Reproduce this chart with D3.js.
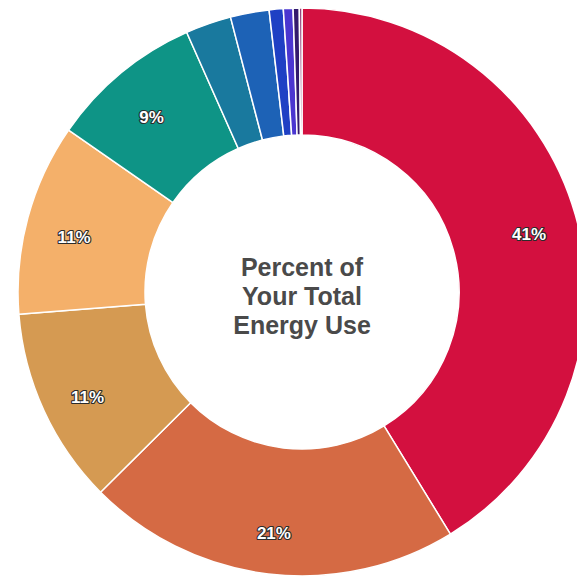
<!DOCTYPE html>
<html>
<head>
<meta charset="utf-8">
<script src="https://cdn.jsdelivr.net/npm/d3@7"></script>
<style>
  html, body { margin: 0; padding: 0; background: #fff; }
  svg { display: block; }
  .slice-label {
    font-family: "Liberation Sans", Arial, sans-serif;
    font-weight: bold;
    font-size: 17px;
    fill: #fff;
    stroke: #2b2b2b;
    stroke-width: 2.2px;
    stroke-linejoin: round;
    paint-order: stroke;
  }
  .center-text {
    font-family: "Liberation Sans", Arial, sans-serif;
    font-weight: bold;
    font-size: 25px;
    fill: #4a4a4a;
  }
</style>
</head>
<body>
<svg id="chart"></svg>
<script>
const categories = [
  "Slice 1", "Slice 2", "Slice 3", "Slice 4", "Slice 5", "Slice 6",
  "Slice 7", "Slice 8", "Slice 9", "Slice 10", "Slice 11",
];
const shares = [41.25, 21.3, 11.2, 10.9, 8.7, 2.6, 2.2, 0.8, 0.55, 0.35, 0.15];
const sliceColors = [
  "#d3103f", "#d56a44", "#d59a52", "#f4b06a", "#0e9486", "#19799e",
  "#1d62b6", "#1f40c4", "#4b36d0", "#331a6e", "#8a2a6a",
];
const centerLines = ["Percent of", "Your Total", "Energy Use"];

const width = 577;
const height = 582;
const cx = 302;
const cy = 292;
const outerRadius = 284;
const innerRadius = 157;

const svg = d3.select("#chart").attr("width", width).attr("height", height);
const g = svg.append("g").attr("transform", `translate(${cx},${cy})`);

const data = categories.map((name, i) => ({ name, value: shares[i], color: sliceColors[i] }));

const pie = d3.pie().sort(null).value((d) => d.value);
const arc = d3.arc().innerRadius(innerRadius).outerRadius(outerRadius);
const labelArc = d3.arc().innerRadius(236).outerRadius(236);

const arcs = pie(data);

g.selectAll(".slice")
  .data(arcs)
  .join("path")
  .attr("class", "slice")
  .attr("d", arc)
  .attr("fill", (d) => d.data.color)
  .attr("stroke", "#fff")
  .attr("stroke-width", 1.5)
  .attr("stroke-linejoin", "round");

// only the big slices carry a label
g.selectAll(".slice-label")
  .data(arcs.filter((d) => d.data.value >= 5))
  .join("text")
  .attr("class", "slice-label")
  .attr("transform", (d) => {
    const [x, y] = labelArc.centroid(d);
    return `translate(${x},${y + 7})`;
  })
  .attr("text-anchor", "middle")
  .attr("dominant-baseline", "central")
  .text((d) => `${Math.round(d.data.value)}%`);

g.append("text")
  .attr("class", "center-text")
  .attr("text-anchor", "middle")
  .selectAll("tspan")
  .data(centerLines)
  .join("tspan")
  .attr("x", 0)
  .attr("y", (d, i) => -16 + i * 29)
  .text((d) => d);
</script>
</body>
</html>
